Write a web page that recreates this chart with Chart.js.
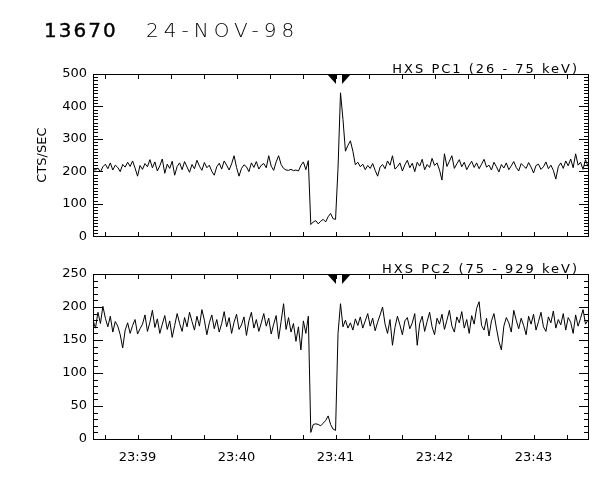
<!DOCTYPE html>
<html>
<head>
<meta charset="utf-8">
<script src="https://cdn.jsdelivr.net/npm/chart.js@4.4.1/dist/chart.umd.min.js"></script>
<style>
  body { margin: 0; background: #fff; }
  #wrap { position: relative; width: 600px; height: 480px; }
  .panel { position: absolute; left: 0; width: 600px; }
  #top { top: 0; height: 250px; }
  #bot { top: 250px; height: 230px; }
</style>
</head>
<body>
<div id="wrap">
  <div class="panel" id="top"><canvas id="pc1Chart"></canvas></div>
  <div class="panel" id="bot"><canvas id="pc2Chart"></canvas></div>
</div>
<script>
// plot header
const observation = '13670';
const obsDate = '24-NOV-98';

// time axis (UT)
const startTime = '23:38:33';
const endTime = '23:43:33';
const sampleStep = 1.5; // seconds between samples
const timeTicks = ['23:39', '23:40', '23:41', '23:42', '23:43'];
const flareMarks = ['23:41:00', '23:41:04'];

const pc1Label = 'HXS PC1 (26 - 75 keV)';
const pc2Label = 'HXS PC2 (75 - 929 keV)';

// counts/sec
const pc1Counts = [
  203, 205, 210, 198, 214, 222, 208, 226, 204, 219, 212, 199, 221, 213, 228, 215, 232, 210, 185, 218,
  206, 224, 214, 236, 211, 229, 201, 217, 238, 194, 222, 209, 231, 188, 215, 226, 205, 230, 213, 197,
  221, 208, 234, 216, 203, 227, 211, 219, 200, 188, 214, 225, 207, 232, 219, 204, 223, 248, 212, 185,
  209, 220, 214, 199, 226, 212, 230, 207, 219, 224, 211, 248, 216, 203, 229, 248, 221, 209, 204, 203,
  206, 202, 204, 201, 218, 229, 205, 233,
  36, 44, 48, 38, 46, 52, 44, 60, 70, 54, 52,
  210, 442, 360, 262, 280, 294, 262, 220,
  228, 214, 222, 205, 218, 209, 224, 203, 185, 213, 221, 208, 232, 219, 248, 207, 214, 226, 201, 220,
  234, 211, 225, 199, 228, 216, 237, 205, 221, 212, 240, 218, 226, 204, 173, 254, 215, 231, 248, 209,
  223, 236, 214, 228, 205, 219, 231, 212, 226, 208, 222, 237, 213, 219, 204, 228, 214, 198, 221, 210,
  226, 205, 217, 230, 212, 201, 224, 216, 209, 227, 213, 195, 218, 222, 206, 214, 229, 208, 219, 203,
  176, 214, 226, 209, 232, 217, 238, 211, 254, 219, 228, 206, 236, 215
];
const pc2Counts = [
  180, 168, 192, 175, 201, 183, 170, 186, 162, 178, 171, 158, 138, 165, 176, 160, 172, 181, 159, 167,
  174, 188, 163, 177, 195, 169, 182, 160, 174, 187, 166, 179, 154, 172, 190, 175, 163, 184, 170, 192,
  178, 165, 186, 171, 196, 180, 158, 176, 188, 167, 181, 162, 175, 193, 170, 184, 160, 177, 189, 166,
  173, 185, 157, 179, 192, 168, 181, 163, 176, 190, 171, 183, 159, 174, 187, 152, 178, 205, 166, 184,
  162, 175, 148, 170, 135, 179, 160, 186,
  10, 22, 23, 22, 20, 24, 28, 35, 22, 15, 13,
  160, 205, 170, 180, 168, 176, 165, 182,
  172, 185, 168, 179, 190, 171, 183, 164, 177, 188, 200, 174, 160, 181, 142, 169, 186, 173, 158, 179,
  184, 167, 176, 190, 142, 175, 186, 163, 178, 192, 170, 158, 183, 174, 189, 166, 180, 195, 171, 162,
  185, 176, 193, 168, 181, 160, 187, 174, 198, 208, 172, 165, 183, 156, 179, 190, 168, 148, 135, 171,
  184, 176, 162, 195, 180, 167, 183, 172, 158, 186, 174, 189, 165, 178, 192, 170, 163, 185, 176, 194,
  168, 181, 173, 190, 165, 184, 177, 160, 188, 171, 183, 196, 174, 180
];

function toSec(t) {
  const p = t.split(':').map(Number);
  return p[0] * 3600 + p[1] * 60 + (p[2] || 0);
}

Chart.defaults.font.family = 'DejaVu Sans';
Chart.defaults.color = '#000';

// IDL style box: inward ticks on all four sides, flare marks, channel label
const idlFrame = {
  id: 'idlFrame',
  afterDraw(chart, args, o) {
    const { ctx, chartArea: a, scales: { x, y } } = chart;
    const L = Math.round(a.left), R = Math.round(a.right), T = Math.round(a.top), B = Math.round(a.bottom);
    ctx.save();
    ctx.strokeStyle = '#000';
    ctx.lineWidth = 1;
    ctx.strokeRect(L + 0.5, T + 0.5, R - L, B - T);
    ctx.beginPath();
    for (let v = o.yMinor; v < y.max; v += o.yMinor) {
      const py = Math.round(y.getPixelForValue(v)) + 0.5;
      const len = v % o.yMajor === 0 ? 10 : 5;
      ctx.moveTo(L, py); ctx.lineTo(L + len, py);
      ctx.moveTo(R + 1, py); ctx.lineTo(R + 1 - len, py);
    }
    for (let t = Math.ceil(x.min / 20) * 20; t < x.max; t += 20) {
      const px = Math.round(x.getPixelForValue(t)) + 0.5;
      ctx.moveTo(px, B); ctx.lineTo(px, B - 4);
      ctx.moveTo(px, T + 1); ctx.lineTo(px, T + 5);
    }
    ctx.stroke();

    const m = flareMarks.map(t => Math.round(x.getPixelForValue(toSec(t))));
    ctx.fillStyle = '#000';
    ctx.beginPath();
    ctx.moveTo(m[0] - 9, T); ctx.lineTo(m[0], T); ctx.lineTo(m[0], T + 10); ctx.closePath();
    ctx.fill();
    ctx.beginPath();
    ctx.moveTo(m[1], T); ctx.lineTo(m[1] + 9, T); ctx.lineTo(m[1], T + 10); ctx.closePath();
    ctx.fill();

    ctx.font = '13px DejaVu Sans';
    ctx.letterSpacing = '2px';
    ctx.textAlign = 'right';
    ctx.textBaseline = 'alphabetic';
    ctx.fillText(o.label, R - 9, T - 1);

    if (o.header) {
      ctx.textAlign = 'left';
      ctx.font = '20px DejaVu Sans';
      ctx.letterSpacing = '2px';
      ctx.lineWidth = 0.4;
      ctx.fillText(observation, 44, 37);
      ctx.strokeText(observation, 44, 37);
      ctx.font = '200 20px DejaVu Sans';
      ctx.letterSpacing = '5px';
      ctx.fillText(obsDate, 146, 37);
    }
    ctx.restore();
  }
};

function idlPanel(canvasId, counts, yMax, yMajor, label, opts) {
  const ctx = document.getElementById(canvasId).getContext('2d');
  return new Chart(ctx, {
    type: 'line',
    data: {
      datasets: [{
        data: counts.map((c, i) => ({ x: toSec(startTime) + i * sampleStep, y: c })),
        borderColor: '#000',
        borderWidth: 1,
        pointRadius: 0,
        tension: 0,
        fill: false
      }]
    },
    options: {
      responsive: true,
      maintainAspectRatio: false,
      animation: false,
      layout: { padding: opts.padding },
      plugins: {
        legend: { display: false },
        tooltip: { enabled: false },
        idlFrame: { yMajor: yMajor, yMinor: 10, label: label, header: opts.header }
      },
      scales: {
        x: {
          type: 'linear',
          min: toSec(startTime),
          max: toSec(endTime),
          grid: { display: false, drawTicks: false },
          border: { display: false },
          afterBuildTicks: s => { s.ticks = timeTicks.map(t => ({ value: toSec(t) })); },
          afterFit: s => { s.height = opts.xHeight; },
          ticks: {
            display: opts.showTime,
            autoSkip: false,
            maxRotation: 0,
            padding: 11,
            font: { size: 13 },
            callback: (v, i) => timeTicks[i]
          }
        },
        y: {
          min: 0,
          max: yMax,
          grid: { display: false, drawTicks: false },
          border: { display: false },
          afterFit: s => { s.width = 63; },
          ticks: { stepSize: yMajor, padding: 6, font: { size: 13 } },
          title: {
            display: !!opts.yTitle,
            text: opts.yTitle,
            font: { size: 13 },
            padding: { top: 5, bottom: 0 }
          }
        }
      }
    },
    plugins: [idlFrame]
  });
}

idlPanel('pc1Chart', pc1Counts, 500, 100, pc1Label, {
  padding: { top: 74, bottom: 11, left: 30, right: 12 },
  xHeight: 0, showTime: false, yTitle: 'CTS/SEC', header: true
});
idlPanel('pc2Chart', pc2Counts, 250, 50, pc2Label, {
  padding: { top: 24, bottom: 0, left: 30, right: 12 },
  xHeight: 41, showTime: true, yTitle: '', header: false
});
</script>
</body>
</html>
